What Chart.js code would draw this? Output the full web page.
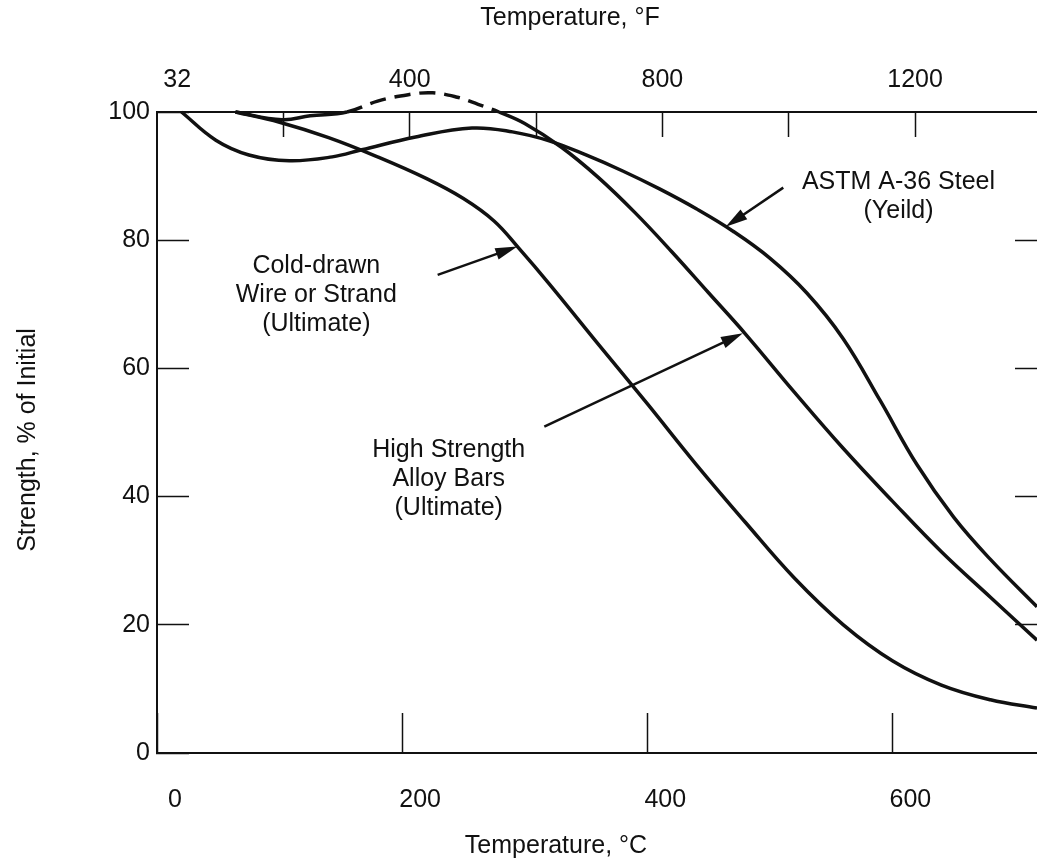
<!DOCTYPE html>
<html>
<head>
<meta charset="utf-8">
<script src="https://cdn.jsdelivr.net/npm/chart.js@4.4.0/dist/chart.umd.min.js"></script>
<style>
  html, body { margin: 0; padding: 0; background: #fff; }
  #wrap { width: 1037px; height: 865px; }
</style>
</head>
<body>
<div id="wrap"><canvas id="chart" width="1037" height="865"></canvas></div>
<script>
// curves: temperature in deg C, strength in % of initial
const astmTemp = [20, 48, 75, 108, 143, 167, 211, 257, 290, 320, 350, 380, 410, 440, 470, 500, 530, 560, 590, 620, 650, 680, 718];
const astmStrength = [100, 95.6, 93.3, 92.4, 93.0, 94.1, 96.1, 97.5, 96.9, 95.5, 93.3, 90.8, 88.0, 84.9, 81.4, 77.2, 71.8, 64.6, 55.0, 45.0, 36.8, 30.2, 22.8];

const wireTemp = [64, 100, 140, 180, 220, 250, 275, 295, 320, 360, 400, 440, 480, 520, 560, 600, 640, 680, 718];
const wireStrength = [100, 98.4, 96.0, 93.0, 89.6, 86.5, 83.0, 78.8, 73.2, 63.8, 54.5, 45.0, 36.0, 27.3, 20.0, 14.4, 10.6, 8.3, 7.0];

const alloyTemp = [64, 102, 125, 155, 180, 205, 225, 245, 262, 279, 300, 330, 360, 390, 420, 450, 480, 520, 560, 600, 640, 680, 718];
const alloyStrength = [100, 98.8, 99.4, 100, 101.7, 102.7, 103, 102.3, 101.2, 100, 98.2, 94.5, 89.8, 84.3, 78.2, 71.8, 65.4, 56.3, 47.5, 39.3, 31.4, 24.3, 17.6];

const tempCTicks = [0, 200, 400, 600];
const tempFTicks = [32, 200, 400, 600, 800, 1000, 1200];
const tempFLabels = [32, 400, 800, 1200];
const strengthTicks = [0, 20, 40, 60, 80, 100];
const rightStrengthTicks = [20, 40, 60, 80];

// callouts, in data units (deg C, %)
const callouts = [
    { lines: ['Cold-drawn', 'Wire or Strand', '(Ultimate)'], at: [130, 76.0], tail: [229, 74.6], tip: [294, 79.0] },
    { lines: ['High Strength', 'Alloy Bars', '(Ultimate)'], at: [238, 47.3], tail: [316, 50.9], tip: [478, 65.5] },
    { lines: ['ASTM A-36 Steel', '(Yeild)'], at: [605, 89.1], tail: [511, 88.2], tip: [464, 82.1] },
];

const ink = '#111';
const fontFamily = "'Liberation Sans', Arial, Helvetica, sans-serif";
Chart.defaults.font.family = fontFamily;
Chart.defaults.color = ink;

const toPoints = (xs, ys) => xs.map((x, i) => ({ x: x, y: ys[i] }));

const curveStyle = {
    borderColor: ink,
    borderWidth: 3.5,
    pointRadius: 0,
    tension: 0.4,
    clip: false,
};

// axis titles and the arrow callouts
const textPlugin = {
    id: 'figureText',
    afterDraw(chart) {
        const ctx = chart.ctx;
        const xs = chart.scales.x;
        const ys = chart.scales.y;
        ctx.save();
        ctx.fillStyle = ink;
        ctx.strokeStyle = ink;
        ctx.font = '25px ' + fontFamily;
        ctx.textAlign = 'center';
        ctx.textBaseline = 'middle';

        ctx.fillText('Temperature, \u00B0F', 570, 18);
        ctx.fillText('Temperature, \u00B0C', 556, 846);
        ctx.save();
        ctx.translate(28, 440);
        ctx.rotate(-Math.PI / 2);
        ctx.fillText('Strength, % of Initial', 0, 0);
        ctx.restore();

        callouts.forEach((c) => {
            const cx = xs.getPixelForValue(c.at[0]);
            const cy = ys.getPixelForValue(c.at[1]);
            c.lines.forEach((line, i) => ctx.fillText(line, cx, cy + i * 29));

            const x1 = xs.getPixelForValue(c.tail[0]);
            const y1 = ys.getPixelForValue(c.tail[1]);
            const x2 = xs.getPixelForValue(c.tip[0]);
            const y2 = ys.getPixelForValue(c.tip[1]);
            const ang = Math.atan2(y2 - y1, x2 - x1);
            ctx.lineWidth = 2.5;
            ctx.beginPath();
            ctx.moveTo(x1, y1);
            ctx.lineTo(x2 - 12 * Math.cos(ang), y2 - 12 * Math.sin(ang));
            ctx.stroke();
            ctx.beginPath();
            ctx.moveTo(x2, y2);
            ctx.lineTo(x2 - 22 * Math.cos(ang) + 6 * Math.sin(ang), y2 - 22 * Math.sin(ang) - 6 * Math.cos(ang));
            ctx.lineTo(x2 - 22 * Math.cos(ang) - 6 * Math.sin(ang), y2 - 22 * Math.sin(ang) + 6 * Math.cos(ang));
            ctx.closePath();
            ctx.fill();
        });
        ctx.restore();
    },
};

const ctx = document.getElementById('chart').getContext('2d');
new Chart(ctx, {
    type: 'line',
    data: {
        datasets: [
            { ...curveStyle, label: 'ASTM A-36 Steel (Yeild)', data: toPoints(astmTemp, astmStrength) },
            { ...curveStyle, label: 'Cold-drawn Wire or Strand (Ultimate)', data: toPoints(wireTemp, wireStrength) },
            {
                ...curveStyle,
                label: 'High Strength Alloy Bars (Ultimate)',
                data: toPoints(alloyTemp, alloyStrength),
                // the part above 100 % is dashed in the figure
                segment: {
                    borderDash: (s) => (s.p0.parsed.y >= 100 && s.p1.parsed.y >= 100 ? [16, 9] : undefined),
                },
            },
        ],
    },
    options: {
        responsive: false,
        animation: false,
        devicePixelRatio: 1,
        layout: { padding: 0 },
        plugins: { legend: { display: false }, tooltip: { enabled: false } },
        scales: {
            x: {
                type: 'linear',
                position: 'bottom',
                min: 0,
                max: 718,
                afterBuildTicks: (s) => { s.ticks = tempCTicks.map((v) => ({ value: v })); },
                afterFit: (s) => { s.height = 112; },
                border: { color: ink, width: 2 },
                grid: { drawOnChartArea: false, tickLength: -40, tickWidth: 1.5, tickColor: ink },
                ticks: { padding: 72, labelOffset: 18, autoSkip: false, maxRotation: 0, font: { size: 25 }, color: ink },
            },
            xF: {
                type: 'linear',
                position: 'top',
                min: 0,
                max: 1393,
                afterBuildTicks: (s) => { s.ticks = tempFTicks.map((v) => ({ value: v })); },
                afterFit: (s) => { s.height = 112; },
                border: { color: ink, width: 2 },
                grid: {
                    drawOnChartArea: false,
                    tickLength: -25,
                    tickWidth: 1.5,
                    tickColor: (c) => (c.tick && c.tick.value === 32 ? 'rgba(0,0,0,0)' : ink),
                },
                ticks: {
                    padding: 42,
                    autoSkip: false,
                    maxRotation: 0,
                    font: { size: 25 },
                    color: ink,
                    callback: (v) => (tempFLabels.includes(v) ? String(v) : ''),
                },
            },
            y: {
                position: 'left',
                min: 0,
                max: 100,
                afterBuildTicks: (s) => { s.ticks = strengthTicks.map((v) => ({ value: v })); },
                afterFit: (s) => { s.width = 157; },
                border: { color: ink, width: 2 },
                grid: { drawOnChartArea: false, tickLength: -32, tickWidth: 1.5, tickColor: ink },
                ticks: { padding: 39, font: { size: 25 }, color: ink },
            },
            yR: {
                position: 'right',
                min: 0,
                max: 100,
                afterBuildTicks: (s) => { s.ticks = rightStrengthTicks.map((v) => ({ value: v })); },
                afterFit: (s) => { s.width = 0; },
                border: { display: false },
                grid: { drawOnChartArea: false, tickLength: -22, tickWidth: 1.5, tickColor: ink },
                ticks: { display: false },
            },
        },
    },
    plugins: [textPlugin],
});
</script>
</body>
</html>
